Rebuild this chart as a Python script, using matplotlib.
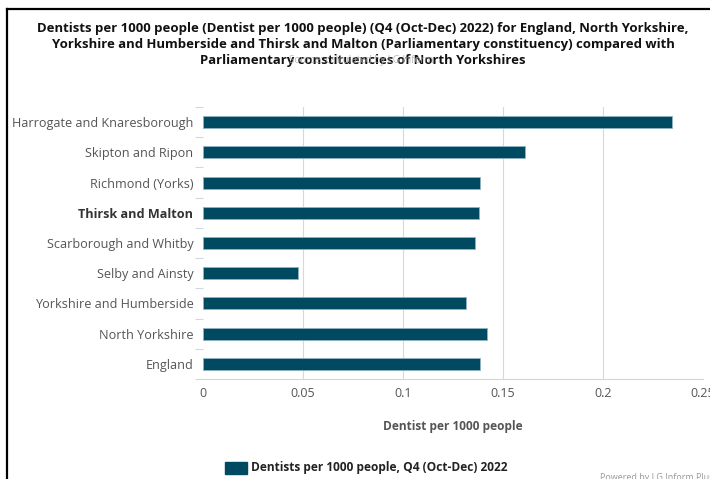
import matplotlib.pyplot as plt
from matplotlib.lines import Line2D
from matplotlib.patches import Rectangle

areas = ["England", "North Yorkshire", "Yorkshire and Humberside", "Selby and Ainsty",
         "Scarborough and Whitby", "Thirsk and Malton", "Richmond (Yorks)",
         "Skipton and Ripon", "Harrogate and Knaresborough"]
dentists = [0.1385, 0.142, 0.1315, 0.0475, 0.136, 0.138, 0.1385, 0.161, 0.2345]
x_ticks = [0, 0.05, 0.1, 0.15, 0.2, 0.25]
x_tick_labels = ["0", "0.05", "0.1", "0.15", "0.2", "0.25"]
highlight = "Thirsk and Malton"

bar_col = "#004a61"
font = "Open Sans"

fig = plt.figure(figsize=(7.10, 4.79), dpi=100)
ax = fig.add_axes([203/710, 1 - 379/479, 500/710, 272/479])

ax.barh(range(len(areas)), dentists, height=0.4, color=bar_col,
        edgecolor="#8fb3c2", linewidth=0.6, zorder=3)
ax.set_xlim(0, 0.25)
ax.set_ylim(-0.5, len(areas) - 0.5)

ax.set_xticks(x_ticks)
ax.set_xticklabels(x_tick_labels, fontsize=9, color="#555555", family=font)
ax.set_yticks(range(len(areas)))
ax.set_yticklabels(areas, fontsize=9.1, color="#555555", family=font)
for lab in ax.get_yticklabels():
    if lab.get_text() == highlight:
        lab.set_fontweight("bold")
        lab.set_color("#333333")
ax.tick_params(axis="both", length=0, pad=7)
ax.tick_params(axis="x", pad=6)
ax.set_yticks([i - 0.5 for i in range(len(areas) + 1)], minor=True)
ax.tick_params(axis="y", which="minor", length=6, color="#d0d7de", width=0.8)

# vertical grid, none at the last tick
for v in x_ticks[1:-1]:
    ax.axvline(v, color="#d8d8d8", lw=0.8, zorder=1)
for s in ["top", "right", "left"]:
    ax.spines[s].set_visible(False)
ax.spines["bottom"].set_color("#ccd6eb")
ax.spines["bottom"].set_linewidth(0.8)

ax.set_xlabel("Dentist per 1000 people", fontsize=8.6, fontweight="bold",
              color="#555555", family=font, labelpad=14)

title = ("Dentists per 1000 people (Dentist per 1000 people) (Q4 (Oct-Dec) 2022) for England, North Yorkshire,\n"
         "Yorkshire and Humberside and Thirsk and Malton (Parliamentary constituency) compared with\n"
         "Parliamentary constituencies of North Yorkshires")
fig.text(363/710, 1 - 22/479, title, ha="center", va="top", fontsize=9.45,
         fontweight="bold", color="#111111", family=font, linespacing=1.28)
fig.text(361/710, 1 - 61/479, "Source: calculated by LG Inform", ha="center", va="center",
         fontsize=7, color="#aaaaaa", family=font, alpha=0.8)

# legend
fig.patches.append(Rectangle((225/710, 1 - 474/479), 22/710, 12/479,
                             transform=fig.transFigure, color=bar_col))
fig.text(251/710, 1 - 468/479, "Dentists per 1000 people, Q4 (Oct-Dec) 2022",
         ha="left", va="center", fontsize=8.6, fontweight="bold",
         color="#222222", family=font)
fig.text(600/710, 1 - 478/479, "Powered by LG Inform Plus", ha="left", va="center",
         fontsize=6.5, color="#999999", family=font)

# frame lines
fig.lines.append(Line2D([7/710, 1], [1 - 9/479, 1 - 9/479], transform=fig.transFigure,
                        color="black", lw=1.6))
fig.lines.append(Line2D([7/710, 7/710], [0, 1 - 9/479], transform=fig.transFigure,
                        color="black", lw=1.6))

fig.savefig("out.png", dpi=100)
